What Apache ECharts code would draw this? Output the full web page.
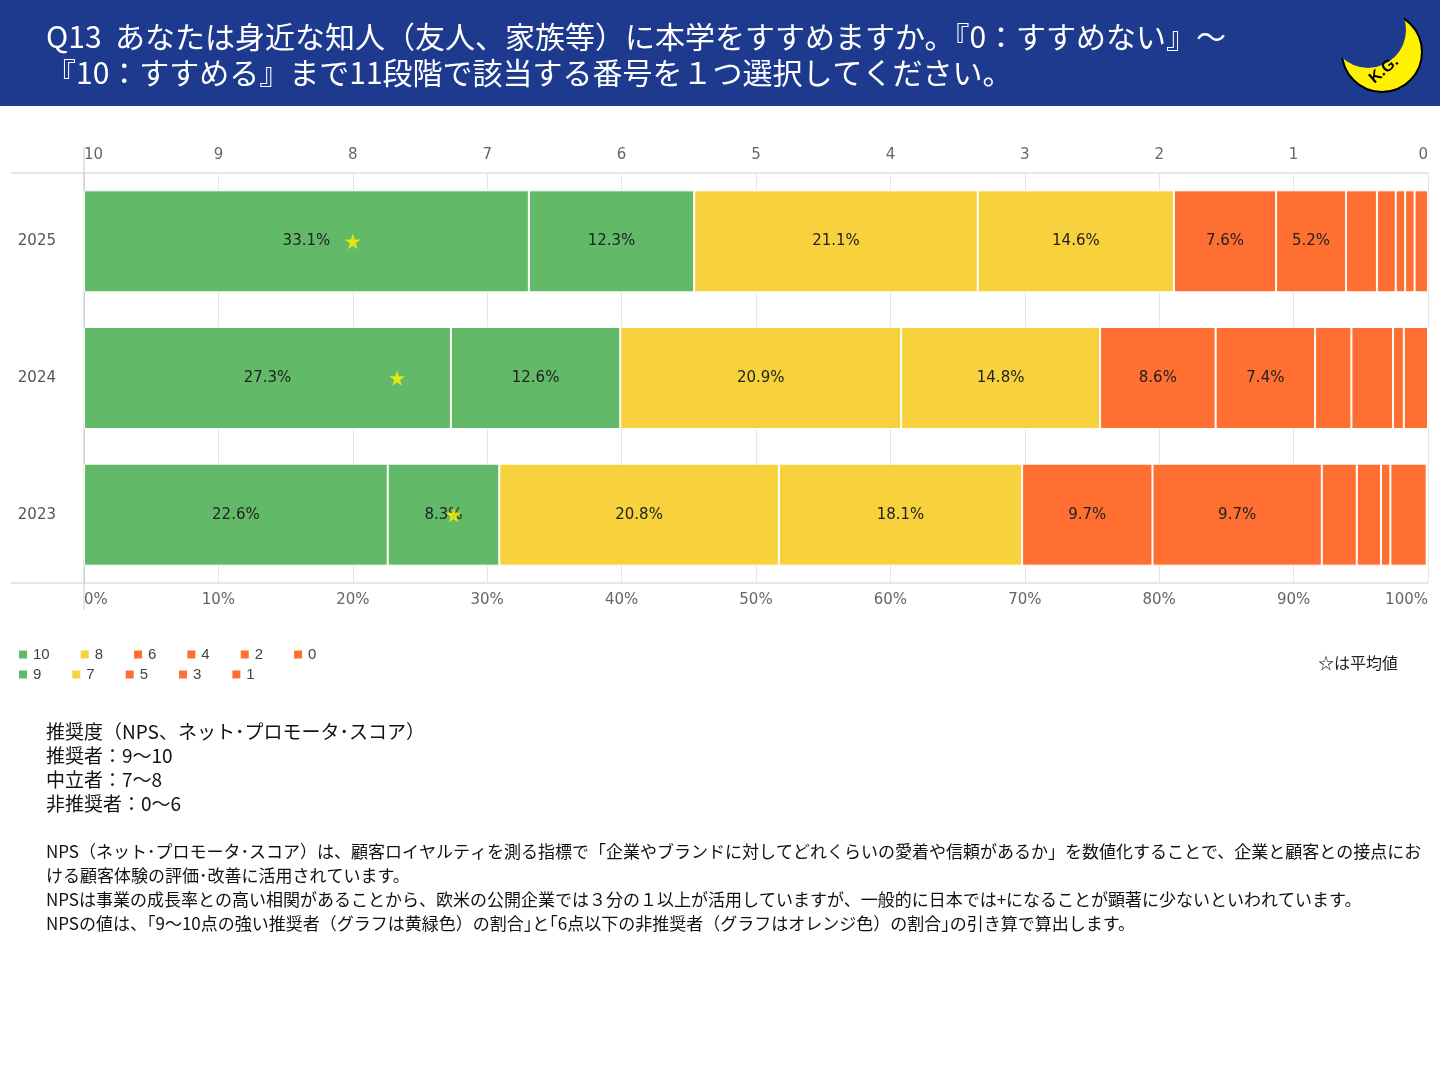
<!DOCTYPE html>
<html>
<head>
<meta charset="utf-8">
<script src="https://cdn.jsdelivr.net/npm/echarts@6/dist/echarts.min.js"></script>
<style>
  html, body { margin: 0; padding: 0; background: #fff; }
  #chart { width: 1440px; height: 1080px; }
</style>
</head>
<body>
<div id="chart"></div>
<script>
// scores 10..0, years top to bottom
const years = ['2025', '2024', '2023'];
const scores = ['10', '9', '8', '7', '6', '5', '4', '3', '2', '1', '0'];
// share (%) of each score per year
const share2025 = [33.1, 12.3, 21.1, 14.6, 7.6, 5.2, 2.3, 1.4, 0.7, 0.7, 1.0];
const share2024 = [27.3, 12.6, 20.9, 14.8, 8.6, 7.4, 2.7, 3.1, 0.8, 1.8, 0];
const share2023 = [22.6, 8.3, 20.8, 18.1, 9.7, 12.6, 2.6, 1.8, 0.7, 2.7, 0];
// label text printed on the bars (empty = no label)
const label2025 = ['33.1%', '12.3%', '21.1%', '14.6%', '7.6%', '5.2%', '', '', '', '', ''];
const label2024 = ['27.3%', '12.6%', '20.9%', '14.8%', '8.6%', '7.4%', '', '', '', '', ''];
const label2023 = ['22.6%', '8.3%', '20.8%', '18.1%', '9.7%', '9.7%', '', '', '', '', ''];
// average score (star)
const averages = [8.0, 7.67, 7.25];

const GREEN = '#62BA68', YELLOW = '#F8D23D', ORANGE = '#FF6F31';
const colorOf = i => i < 2 ? GREEN : (i < 4 ? YELLOW : ORANGE);

const shares = [share2025, share2024, share2023];
const labels = [label2025, label2024, label2023];

const barSeries = scores.map((s, i) => ({
  name: s,
  type: 'bar',
  stack: 'all',
  barWidth: 102,
  itemStyle: { color: colorOf(i), borderColor: '#fff', borderWidth: 1 },
  label: {
    show: true, color: '#222', fontSize: 15, fontFamily: 'DejaVu Sans',
    formatter: p => labels[p.dataIndex][i]
  },
  data: shares.map(row => row[i])
}));

const font = '"Noto Sans CJK JP", sans-serif';
const note = [
  '推奨度（NPS、ネット･プロモータ･スコア）',
  '推奨者：9～10',
  '中立者：7～8',
  '非推奨者：0～6'
];
const para = [
  'NPS（ネット･プロモータ･スコア）は、顧客ロイヤルティを測る指標で「企業やブランドに対してどれくらいの愛着や信頼があるか」を数値化することで、企業と顧客との接点にお',
  'ける顧客体験の評価･改善に活用されています。',
  'NPSは事業の成長率との高い相関があることから、欧米の公開企業では３分の１以上が活用していますが、一般的に日本では+になることが顕著に少ないといわれています。',
  'NPSの値は、｢9～10点の強い推奨者（グラフは黄緑色）の割合｣と｢6点以下の非推奨者（グラフはオレンジ色）の割合｣の引き算で算出します。'
];

const chart = echarts.init(document.getElementById('chart'));
chart.setOption({
  animation: false,
  grid: { left: 84, right: 12, top: 173, bottom: 497, containLabel: false, outerBoundsMode: 'none' },
  xAxis: [
    {
      type: 'value', min: 0, max: 100, interval: 10, position: 'bottom',
      axisLabel: { formatter: '{value}%', color: '#666', fontSize: 15, margin: 10, fontFamily: 'DejaVu Sans',
        alignMinLabel: 'left', alignMaxLabel: 'right' },
      axisLine: { show: false }, axisTick: { show: false },
      splitLine: { lineStyle: { color: '#e6e6e6' } }
    },
    {
      type: 'value', min: 0, max: 10, interval: 1, inverse: true, position: 'top',
      axisLabel: { color: '#666', fontSize: 15, margin: 10, fontFamily: 'DejaVu Sans',
        alignMinLabel: 'right', alignMaxLabel: 'left' },
      axisLine: { show: false }, axisTick: { show: false },
      splitLine: { show: false }
    }
  ],
  yAxis: {
    type: 'category', data: years, inverse: true,
    axisLabel: { color: '#555', fontSize: 15, margin: 28, fontFamily: 'DejaVu Sans' },
    axisLine: { lineStyle: { color: '#ccc' } }, axisTick: { show: false }
  },
  legend: [
    { data: scores.filter((s, i) => i % 2 === 0), left: 12, top: 642, itemWidth: 10, itemHeight: 10, itemGap: 29,
      icon: 'rect', textStyle: { color: '#444', fontSize: 15, width: 18 } },
    { data: scores.filter((s, i) => i % 2 === 1), left: 12, top: 662, itemWidth: 10, itemHeight: 10, itemGap: 29,
      icon: 'rect', textStyle: { color: '#444', fontSize: 15, width: 18 } }
  ],
  series: barSeries.concat([{
    type: 'scatter', xAxisIndex: 1, symbol: 'path://M50,0L61,35L98,35L68,57L79,91L50,70L21,91L32,57L2,35L39,35Z',
    symbolSize: 16, itemStyle: { color: '#FFF200' }, z: 10, silent: true,
    data: averages.map((v, i) => [v, years[i]])
  }]),
  graphic: [
    { type: 'rect', shape: { x: 0, y: 0, width: 1440, height: 106 }, style: { fill: '#1E3A8E' } },
    { type: 'text', left: 46, top: 22, style: { text: 'Q13  あなたは身近な知人（友人、家族等）に本学をすすめますか。『0：すすめない』～', fill: '#fff', font: '30px ' + font } },
    { type: 'text', left: 46, top: 58, style: { text: '『10：すすめる』まで11段階で該当する番号を１つ選択してください。', fill: '#fff', font: '30px ' + font } },
    { type: 'circle', shape: { cx: 1382, cy: 52, r: 40 }, style: { fill: '#FFF200', stroke: '#000', lineWidth: 2 } },
    { type: 'circle', shape: { cx: 1368, cy: 30, r: 38 }, style: { fill: '#1E3A8E' } },
    { type: 'text', x: 1384, y: 70, rotation: 0.7, style: { text: 'K.G.', fill: '#000', font: 'bold 16px sans-serif', align: 'center', verticalAlign: 'middle' } },
    { type: 'line', shape: { x1: 11, y1: 173, x2: 1428, y2: 173 }, style: { stroke: '#ccc' } },
    { type: 'line', shape: { x1: 11, y1: 583, x2: 1428, y2: 583 }, style: { stroke: '#ccc' } },
    { type: 'line', shape: { x1: 84, y1: 147, x2: 84, y2: 610 }, style: { stroke: '#ccc' } },
    { type: 'text', right: 42, top: 655, style: { text: '☆は平均値', fill: '#222', font: '16px ' + font } },
    { type: 'text', left: 46, top: 720, style: { text: note.join('\n'), fill: '#111', font: '19px ' + font, lineHeight: 24 } },
    { type: 'text', left: 46, top: 840, style: { text: para.join('\n'), fill: '#111', font: '17px ' + font, lineHeight: 24 } }
  ]
});
</script>
</body>
</html>
